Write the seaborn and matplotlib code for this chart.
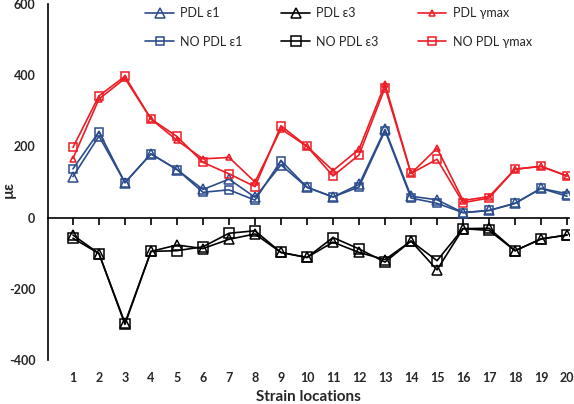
import numpy as np
import pandas as pd
import seaborn as sns
import matplotlib
matplotlib.use("Agg")
import matplotlib.pyplot as plt

# strain locations 1..20
locations = list(range(1, 21))

pdl_e1 = [115, 229, 98, 179, 135, 79, 108, 57, 148, 85, 58, 93, 248, 60, 50, 14, 20, 40, 82, 67]
nopdl_e1 = [137, 241, 98, 179, 135, 71, 78, 49, 160, 85, 58, 86, 244, 55, 40, 14, 20, 40, 82, 60]
pdl_e3 = [-49, -101, -296, -95, -77, -87, -61, -46, -98, -112, -69, -98, -118, -66, -147, -31, -30, -93, -60, -49]
nopdl_e3 = [-58, -101, -300, -95, -93, -82, -44, -37, -98, -112, -56, -88, -125, -66, -121, -31, -36, -93, -60, -49]
pdl_gmax = [166, 333, 391, 277, 217, 165, 169, 100, 249, 200, 132, 192, 375, 124, 195, 48, 59, 136, 144, 117]
nopdl_gmax = [197, 342, 397, 277, 228, 155, 123, 87, 258, 200, 117, 176, 365, 124, 164, 42, 55, 136, 144, 117]

blue = "#2B4C8C"
red = "#EE1C25"

sns.set_style("white")
plt.rcParams['font.family'] = ['Lato', 'DejaVu Sans']

fig = plt.figure(figsize=(5.74, 4.04), dpi=100)
ax = fig.add_axes([0.0836, 0.109, 0.9084, 0.881])

series = [
    ("PDL ε1", pdl_e1, blue, "^", 6.5),
    ("NO PDL ε1", nopdl_e1, blue, "s", 5.5),
    ("PDL ε3", pdl_e3, "black", "^", 7.5),
    ("NO PDL ε3", nopdl_e3, "black", "s", 7),
    ("PDL γmax", pdl_gmax, red, "^", 5),
    ("NO PDL γmax", nopdl_gmax, red, "s", 5.5),
]

for name, vals, col, mk, ms in series:
    sns.lineplot(x=locations, y=vals, ax=ax, color=col, marker=mk, markersize=ms,
                 markerfacecolor="none", markeredgecolor=col, markeredgewidth=1.1,
                 linewidth=1.2, label=name)

ax.set_xlim(0.04, 20.09)
ax.set_ylim(-400, 600)
ax.set_yticks([-400, -200, 0, 200, 400, 600])
ax.set_xticks(locations)
ax.set_xticklabels([str(i) for i in locations], fontweight="bold", fontsize=9)
ax.set_yticklabels(["-400", "-200", "0", "200", "400", "600"], fontweight="bold", fontsize=9)

for s in ["top", "right", "bottom"]:
    ax.spines[s].set_visible(False)
ax.spines["left"].set_color("black")
ax.spines["left"].set_linewidth(1.2)
ax.tick_params(axis="y", direction="out", length=5, width=1.2, color="black", pad=4)
ax.tick_params(axis="x", length=0, pad=9)

# zero line axis with tick marks
zero_frac = (0 - (-400)) / (600 - (-400))
sec = ax.secondary_xaxis(zero_frac)
sec.set_xticks(locations)
sec.tick_params(axis="x", direction="out", length=5, width=1.2, color="black",
                labelbottom=False, labeltop=False, bottom=True, top=False)
sec.spines["bottom"].set_linewidth(1.2)
sec.spines["bottom"].set_color("black")
sec.spines["top"].set_linewidth(1.2)
sec.spines["top"].set_color("black")

ax.set_xlabel("Strain locations", fontweight="bold", fontsize=11, labelpad=4)
ax.set_ylabel("µε", fontweight="bold", fontsize=11)
ax.yaxis.set_label_coords(-0.062, 0.48)

ax.legend(ncol=3, frameon=False, loc="upper left", bbox_to_anchor=(0.165, 1.022),
          fontsize=9, handlelength=2.3, labelspacing=1.3, columnspacing=3.1,
          handletextpad=0.5)

fig.savefig("out.png", dpi=100)
